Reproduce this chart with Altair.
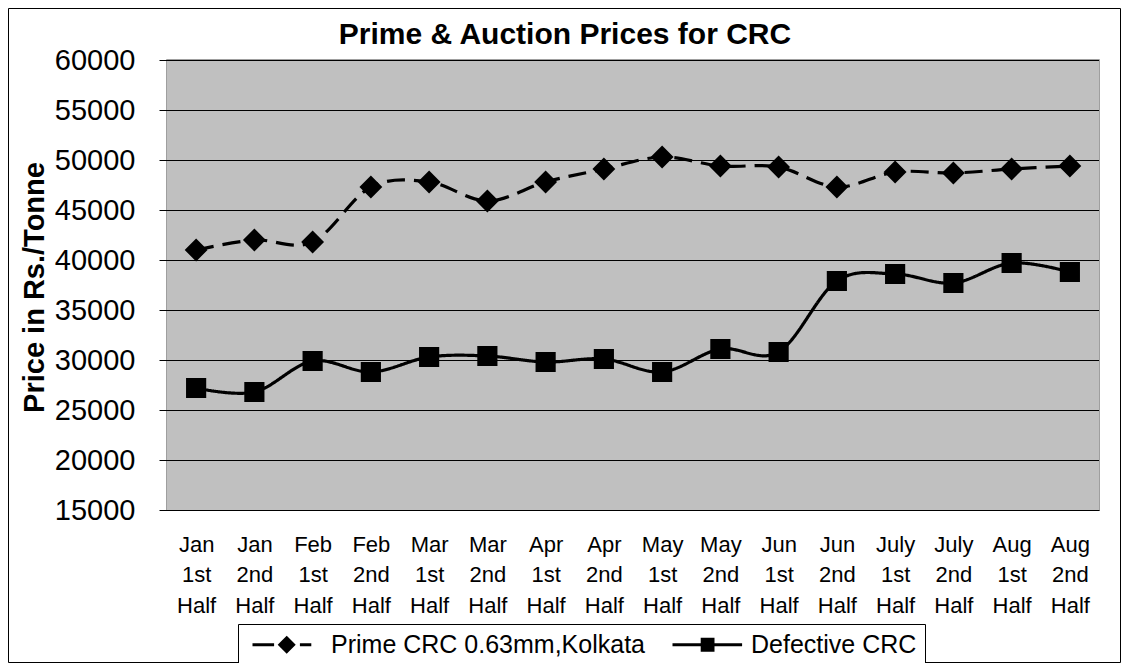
import altair as alt
import pandas as pd

periods = ["Jan 1st Half", "Jan 2nd Half", "Feb 1st Half", "Feb 2nd Half",
           "Mar 1st Half", "Mar 2nd Half", "Apr 1st Half", "Apr 2nd Half",
           "May 1st Half", "May 2nd Half", "Jun 1st Half", "Jun 2nd Half",
           "July 1st Half", "July 2nd Half", "Aug 1st Half", "Aug 2nd Half"]
prime = [41000, 42000, 41800, 47300, 47800, 45900, 47800, 49100,
         50300, 49400, 49300, 47300, 48800, 48700, 49100, 49400]
defective = [27200, 26800, 29900, 28800, 30300, 30400, 29800, 30100,
             28800, 31100, 30800, 37900, 38600, 37700, 39700, 38800]
series_names = ["Prime CRC 0.63mm,Kolkata", "Defective CRC"]
y_ticks = [15000, 20000, 25000, 30000, 35000, 40000, 45000, 50000, 55000, 60000]
title_text = "Prime & Auction Prices for CRC"
y_title = "Price in Rs./Tonne"

rows = []
for i, p in enumerate(periods):
    rows.append({"period": p, "series": series_names[0], "value": prime[i]})
    rows.append({"period": p, "series": series_names[1], "value": defective[i]})
df = pd.DataFrame(rows)

W, H = 932, 450
PAD = {"left": 159, "top": 52, "right": 22, "bottom": 153}
FONT = "Liberation Sans"

y_scale = alt.Scale(domain=[15000, 60000], nice=False, zero=False)
y_axis = alt.Axis(values=y_ticks, format="d", labelFontSize=29, labelFont=FONT,
                  labelColor="black", tickColor="black", tickSize=8,
                  labelPadding=24, domainColor="black", domainWidth=1,
                  grid=False,
                  titleFontSize=29, titleFont=FONT, titleFontWeight="bold",
                  titleColor="black", titleX=-124, titleY=227, titleAngle=-90,
                  titleAlign="center", titleBaseline="alphabetic")

x_enc = alt.X("period:N", sort=periods, title=None,
              scale=alt.Scale(type="point", padding=0.5),
              axis=alt.Axis(labelExpr="split(datum.label, ' ')", labelAngle=0,
                            labelFontSize=22, labelLineHeight=30.5, labelColor="black",
                            labelFont=FONT, ticks=False, domainColor="black",
                            domainWidth=1, labelPadding=24, grid=False,
                            labelBaseline="top"))
y_enc = alt.Y("value:Q", title=y_title, scale=y_scale, axis=y_axis)

plot_bg = alt.Chart(pd.DataFrame({"k": [0]})).mark_rect(color="#C0C0C0").encode(
    x=alt.value(0), x2=alt.value(W), y=alt.value(0), y2=alt.value(H))

grid = alt.Chart(pd.DataFrame({"tick": y_ticks})).mark_rule(
    color="black", strokeWidth=1, yOffset=0.5).encode(
    y=alt.Y("tick:Q", title=y_title, scale=y_scale, axis=y_axis),
    x=alt.value(0), x2=alt.value(W))

base = alt.Chart(df).encode(x=x_enc, y=y_enc)

lines = base.mark_line(interpolate="cardinal", color="black", strokeWidth=3.2).encode(
    strokeDash=alt.StrokeDash("series:N",
                              scale=alt.Scale(domain=series_names, range=[[18, 9], [1, 0]]),
                              legend=None),
    detail="series:N")

points = base.mark_point(filled=True, fill="black", stroke="black", opacity=1).encode(
    shape=alt.Shape("series:N",
                    scale=alt.Scale(domain=series_names, range=["diamond", "square"]),
                    legend=None),
    size=alt.Size("series:N", scale=alt.Scale(domain=series_names, range=[400, 330]),
                  legend=None))

# legend glyphs: line segments plus a solid marker built from nested outlines
path_prime = ("M-1,0H2.6 M6.9,0H8.8 "
              "M4.7,-1.15L5.85,0L4.7,1.15L3.55,0Z "
              "M4.7,-0.7L5.4,0L4.7,0.7L4.0,0Z "
              "M4.7,-0.25L4.95,0L4.7,0.25L4.45,0Z")
path_def = ("M-1,0H10.6 "
            "M3.95,-0.9H5.75V0.9H3.95Z "
            "M4.35,-0.5H5.35V0.5H4.35Z "
            "M4.75,-0.1H4.95V0.1H4.75Z")

legend_layer = alt.Chart(df).transform_filter("false").mark_point(
    filled=False, color="black", strokeWidth=3, opacity=1).encode(
    shape=alt.Shape("series:N",
                    scale=alt.Scale(domain=series_names, range=[path_prime, path_def]),
                    legend=alt.Legend(title=None, orient="none", legendX=71, legendY=564,
                                      direction="horizontal", strokeColor="black",
                                      fillColor="white", padding=8, symbolSize=144,
                                      symbolStrokeColor="black", symbolStrokeWidth=3,
                                      symbolOpacity=1, labelFontSize=25,
                                      labelFont=FONT, labelColor="black",
                                      labelOffset=60, columnPadding=21,
                                      labelLimit=600)))

title_layer = alt.Chart(pd.DataFrame({"t": [title_text]})).mark_text(
    font=FONT, fontSize=30, fontWeight="bold", color="black",
    align="center", baseline="alphabetic").encode(
    text="t:N", x=alt.value(565 - 167), y=alt.value(44 - 60))

frame = alt.Chart(pd.DataFrame({"k": [0]})).mark_rect(
    filled=False, stroke="black", strokeWidth=1).encode(
    x=alt.value(-PAD["left"] + 0.5), x2=alt.value(W + PAD["right"] - 0.5),
    y=alt.value(-PAD["top"] + 0.5), y2=alt.value(H + PAD["bottom"] - 0.5))

chart = alt.layer(plot_bg, grid, lines, points, legend_layer, title_layer, frame).resolve_scale(
    shape="independent").properties(
    width=W, height=H,
    autosize=alt.AutoSizeParams(type="none"),
    padding=PAD,
    background="white",
).configure_view(fill="#C0C0C0", stroke="#808080", strokeWidth=1.5)

chart.save("out.html", embed_options={"renderer": "svg", "actions": False})
